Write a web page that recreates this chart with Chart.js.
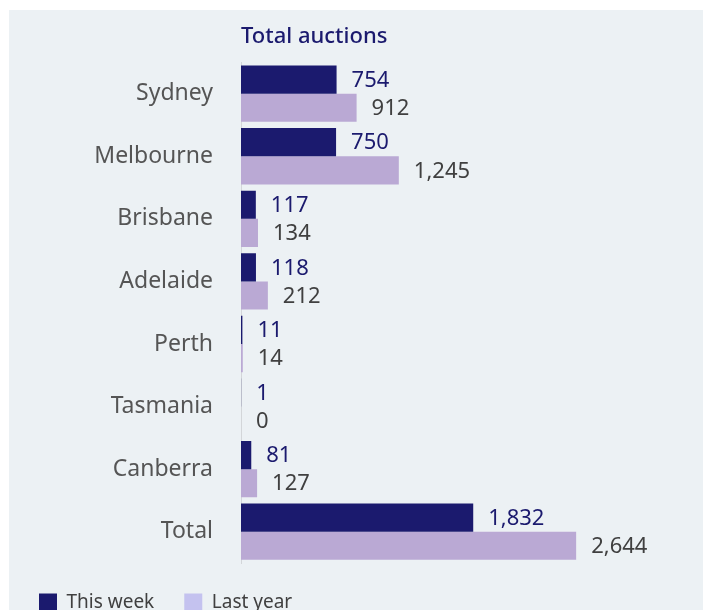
<!DOCTYPE html>
<html>
<head>
<meta charset="utf-8">
<script src="https://cdn.jsdelivr.net/npm/chart.js@4/dist/chart.umd.min.js"></script>
<style>
  body { margin: 0; background: #ffffff; }
  #panel { position: absolute; left: 9px; top: 10px; width: 694px; height: 600px; background: #ecf1f4; overflow: hidden; }
  #wrap { position: relative; width: 694px; height: 612px; }
</style>
</head>
<body>
<div id="panel"><div id="wrap"><canvas id="auctionsChart"></canvas></div></div>
<script>
const cities = ['Sydney', 'Melbourne', 'Brisbane', 'Adelaide', 'Perth', 'Tasmania', 'Canberra', 'Total'];
const thisWeek = [754, 750, 117, 118, 11, 1, 81, 1832];
const lastYear = [912, 1245, 134, 212, 14, 0, 127, 2644];

const navy = '#1b1a6e';
const lilac = '#baa9d4';
const fontFamily = '"Noto Sans", sans-serif';

// draws the number just past the end of each bar
const valueLabels = {
    id: 'valueLabels',
    afterDatasetsDraw(chart) {
        const ctx = chart.ctx;
        ctx.save();
        ctx.font = '22px ' + fontFamily;
        ctx.textBaseline = 'middle';
        ctx.textAlign = 'left';
        chart.data.datasets.forEach((ds, i) => {
            const meta = chart.getDatasetMeta(i);
            ctx.fillStyle = i === 0 ? navy : '#404040';
            meta.data.forEach((bar, j) => {
                ctx.fillText(ds.data[j].toLocaleString('en-US'), bar.x + 15, bar.y + 1);
            });
        });
        ctx.restore();
    }
};

new Chart(document.getElementById('auctionsChart'), {
    type: 'bar',
    data: {
        labels: cities,
        datasets: [
            { label: 'This week', data: thisWeek, backgroundColor: navy },
            { label: 'Last year', data: lastYear, backgroundColor: lilac }
        ]
    },
    plugins: [valueLabels],
    options: {
        indexAxis: 'y',
        responsive: true,
        maintainAspectRatio: false,
        animation: false,
        datasets: { bar: { categoryPercentage: 0.9, barPercentage: 1.0 } },
        layout: { padding: { left: 0, right: 12, top: 0, bottom: 0 } },
        scales: {
            x: {
                display: false,
                min: 0,
                max: 3550
            },
            y: {
                grid: { display: false, drawTicks: false },
                border: { display: true, color: '#d3d6d9', width: 1 },
                ticks: { color: '#555555', font: { family: fontFamily, size: 23 }, padding: 28 },
                afterFit(scale) { scale.width = 232; }
            }
        },
        plugins: {
            title: {
                display: true,
                text: 'Total auctions',
                align: 'start',
                fullSize: false,
                color: navy,
                font: { family: fontFamily, size: 22, weight: '500' },
                padding: { top: 14, bottom: 12 }
            },
            legend: {
                position: 'bottom',
                align: 'start',
                labels: {
                    color: '#404040',
                    font: { family: fontFamily, size: 19 },
                    boxWidth: 18,
                    boxHeight: 18,
                    padding: 30,
                    generateLabels(chart) {
                        const fills = [navy, '#c4c2ef'];
                        return chart.data.datasets.map((ds, i) => ({
                            text: ds.label,
                            fillStyle: fills[i],
                            strokeStyle: fills[i],
                            lineWidth: 0,
                            fontColor: '#404040',
                            datasetIndex: i,
                            hidden: false
                        }));
                    }
                }
            },
            tooltip: { enabled: false }
        }
    }
});
</script>
</body>
</html>
